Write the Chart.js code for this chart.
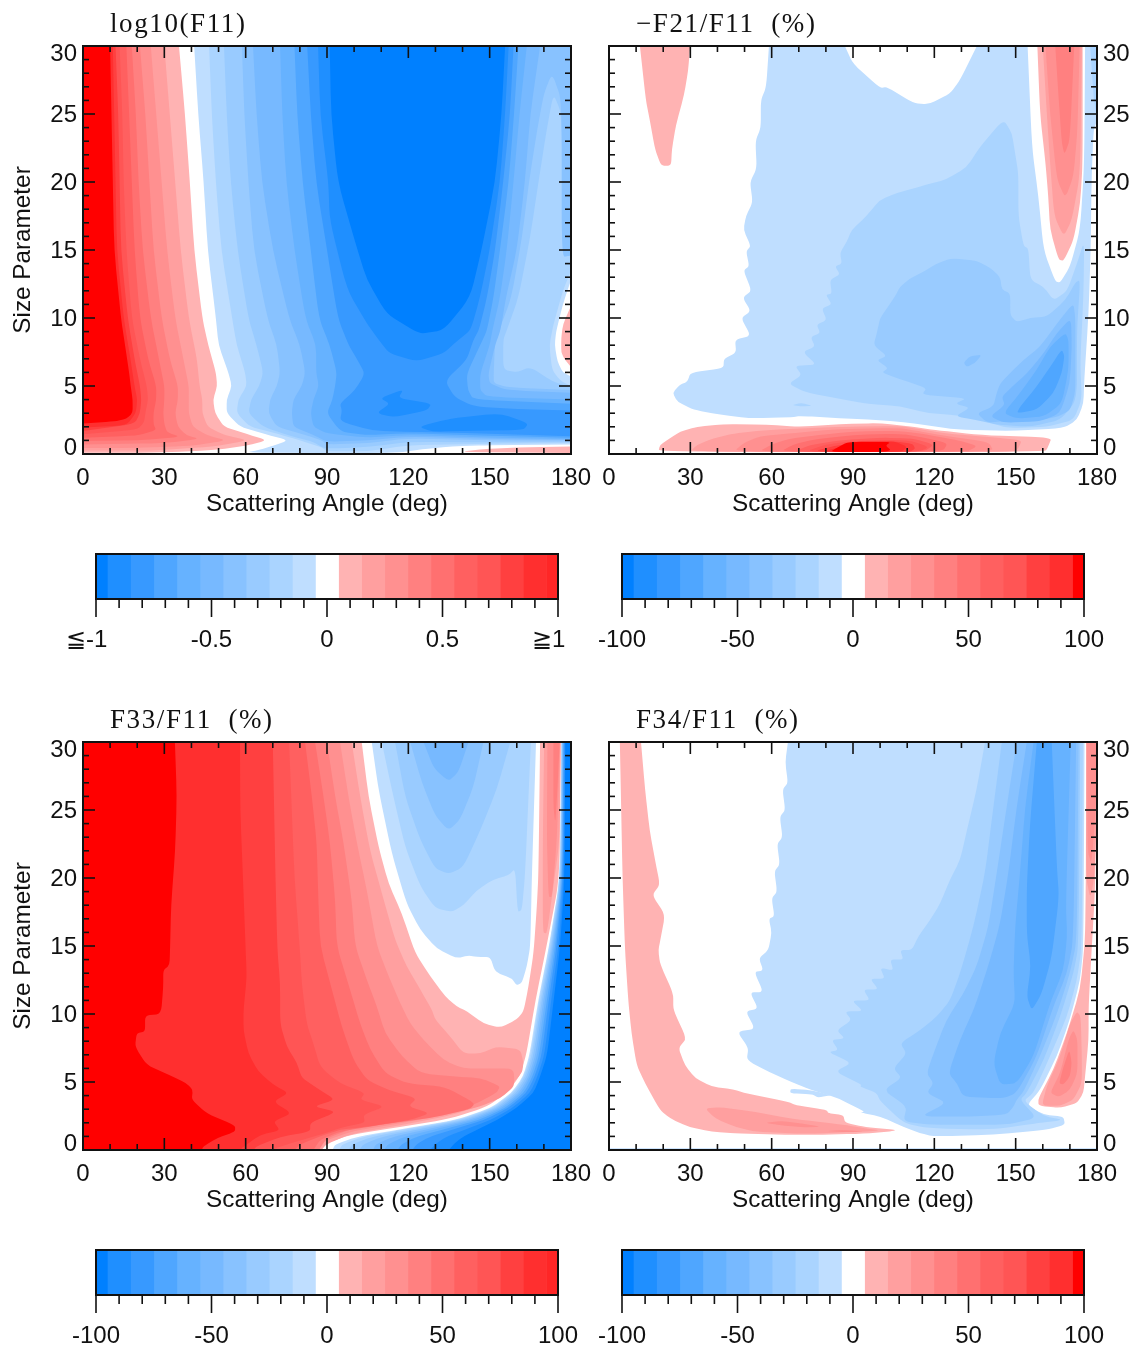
<!DOCTYPE html>
<html>
<head>
<meta charset="utf-8">
<title>Scattering matrix elements</title>
<script src="https://cdn.jsdelivr.net/npm/chart.js@4/dist/chart.umd.min.js"></script>
<style>
  body { margin: 0; background: #fff; }
  canvas { position: absolute; }
</style>
</head>
<body>
<script>
// axis ticks
const angleTicks = [0, 30, 60, 90, 120, 150, 180];
const angleMinor = [10, 20, 40, 50, 70, 80, 100, 110, 130, 140, 160, 170];
const sizeTicks = [0, 5, 10, 15, 20, 25, 30];
const sizeMinor = [1, 2, 3, 4, 6, 7, 8, 9, 11, 12, 13, 14, 16, 17, 18, 19, 21, 22, 23, 24, 26, 27, 28, 29];
const sizeLabelPos = [0.42, 4.93, 9.93, 14.93, 19.93, 24.93, 29.4];
const barTicks = [-100, -50, 0, 50, 100];
const barMinor = [-90, -80, -70, -60, -40, -30, -20, -10, 10, 20, 30, 40, 60, 70, 80, 90];
const f11BarLabelPos = [-104, -50, 0, 50, 96];
const f11BarLabels = ['≦-1', '-0.5', '0', '0.5', '≧1'];
const pctBarLabels = ['-100', '-50', '0', '50', '100'];

// colour bar bands
const barEdges = [-100, -95, -85, -75, -65, -55, -45, -35, -25, -15, -5, 5, 15, 25, 35, 45, 55, 65, 75, 85, 95, 100];
const barLevels = [-100, -90, -80, -70, -60, -50, -40, -30, -20, -10, 0, 10, 20, 30, 40, 50, 60, 70, 80, 90, 100];
const levelColors = {
  '-100': '#0080ff', '-90': '#1f8fff', '-80': '#3799ff', '-70': '#4fa6ff', '-60': '#66b2ff',
  '-50': '#77b9ff', '-40': '#88c2ff', '-30': '#99cbff', '-20': '#aad4ff', '-10': '#bfdeff',
  '0': '#ffffff',
  '10': '#ffb3b3', '20': '#ff9f9f', '30': '#ff9090', '40': '#ff8080', '50': '#ff7070',
  '60': '#ff6060', '70': '#ff5555', '80': '#ff4040', '90': '#ff2f2f', '100': '#ff0000'
};

// ---- log10(F11), contour outlines as [angle, size parameter]
const f11P10 = [[0,30],[35.4,30],[37.6,25],[39.4,20],[41,15],[44,10],[46.2,8],[49,6],[49.5,5],[48,4],[48.7,3],[52,2],[60,1.5],[68,1],[60,.6],[49,.3],[30,.1],[0,.1]];
const f11P20 = [[0,30],[30,30],[32,25],[34,20],[36,15],[39,10],[42,7],[43,5],[44,4],[44,3],[46,2],[52,1.4],[61,1],[48,.55],[25,.25],[0,.25]];
const f11P30 = [[0,30],[25,30],[27,25],[29,20],[31,15],[34,10],[37,7],[39,5],[39,4],[39,3],[40.5,2],[46,1.35],[53,1],[40,.6],[20,.45],[0,.45]];
const f11P40 = [[0,30],[21,30],[23,25],[24.5,20],[26,15],[29,10],[32,7],[35,5],[35,4],[34,3],[35,2],[38,1.4],[43,1.1],[30,.8],[0,.7]];
const f11P50 = [[0,30],[18,30],[19.5,25],[20.5,20],[22,15],[25,10],[28,7],[30,5],[30,4],[29.6,3],[30,2.2],[31,1.6],[36,1.25],[20,1],[0,.95]];
const f11P60 = [[0,30],[16,30],[17,25],[18,20],[19,15],[21,10],[24,7],[27,5],[27,4],[26,3],[26,2.2],[27,1.75],[20,1.35],[0,1.2]];
const f11P70 = [[0,30],[13.5,30],[14.5,25],[15,20],[16,15],[18,10],[21,7],[23.5,5],[24,4],[23,3],[22.5,2.3],[20,1.8],[0,1.45]];
const f11P80 = [[0,30],[12,30],[13,25],[13.5,20],[14,15],[16.5,10],[19,7],[21,5],[21.5,4],[21,3],[19,2.2],[0,1.7]];
const f11P90 = [[0,30],[11,30],[11.5,25],[12,20],[12.5,15],[15,10],[17.5,7],[19,5],[20,4],[19.5,3],[16,2.1],[0,1.95]];
const f11P100 = [[0,30],[10,30],[10.5,25],[11,20],[11.5,15],[14,10],[15.5,8],[17,6],[17.6,5],[18.3,4],[18.3,3],[16,2.6],[12,2.4],[0,2.25]];
const f11PinkEdge = [[180,10.9],[177,9.5],[176.4,8.5],[176.4,7.5],[177.5,7],[180,6.4]];
const f11PinkFloor = [[138,.15],[150,.4],[165,.5],[180,.55],[180,.08]];
const f11M10 = [[41,30],[42.5,25],[44.5,20],[46,15],[49,10],[50,8],[53.6,6],[54.9,5],[53,4],[53,3],[58,2],[66.5,1.5],[75.8,1],[70,.6],[65,.3],[60,.1],[100,.05],[117,.1],[125,.35],[136,.55],[150,.65],[180,.7],[180,5.7],[177,6],[175,6.8],[174,8],[174.5,9],[177,11],[180,12.8],[180,30]];
const f11M20 = [[46.5,30],[47.5,25],[49,20],[51,15],[55,10],[56.7,8],[59.8,6],[60.4,5],[57.3,4],[56.7,3],[61.6,2],[71.5,1.5],[80,1],[88,.5],[90,.2],[105,.2],[120,.66],[150,.75],[180,.8],[180,5],[176,5.4],[173,6.2],[172,8],[173.5,9.5],[177,12],[180,13.5],[180,30]];
const f11M30 = [[52,30],[53,25],[54.5,20],[57,15],[61,10],[64,8],[66.5,6],[65,5],[62,4],[61,3],[66.5,2],[77,1.3],[85,.9],[88,.5],[90,.4],[105,.5],[120,.9],[150,.85],[180,.9],[180,4.9],[173.5,5.3],[165,6.4],[160,6],[155,6.2],[155,8.4],[156.3,9.1],[160.6,11.5],[165,16],[168,20],[171,23.8],[173.5,26.5],[176.6,25],[176.6,14.5],[180,14.6],[180,30]];
const f11M40 = [[58.6,30],[59.5,25],[61,20],[63,15],[68,10],[71.5,8],[72.7,6],[71.5,5],[69,4],[68.4,3],[71.5,2],[82,1.4],[88,1],[90,.7],[105,.8],[120,1.15],[150,1],[180,1],[180,4.7],[157,4.9],[151.5,5.2],[151.5,6],[152,8.4],[153.5,9.1],[158,11.5],[162,16],[164.5,20],[167.5,23.8],[170,26.5],[173,28],[176.6,26],[176.6,14.5],[180,14.6],[180,30]];
const f11M50 = [[62.7,30],[64,25],[66,20],[70,15],[76,10],[80,8],[82,6],[80.7,5],[77.6,4],[77,3],[77.6,2],[85,1.4],[90,.9],[105,1],[120,1.28],[150,1.1],[180,1.05],[180,4.5],[156,4.7],[150,5.2],[149.5,5.9],[152,8],[154,9.1],[156,11.5],[160,15],[163,20],[165,25],[168.6,30]];
const f11M60 = [[72.7,30],[73.5,25],[75,20],[78,15],[82,10],[86,8],[86,6],[87,5],[85,4],[84,3],[85,2],[90,1.5],[105,1.2],[120,1.4],[150,1.2],[180,1.1],[180,4],[149,4.2],[146.5,4.7],[146.5,5.9],[150,8],[151,9.1],[153.8,11.5],[156.3,15],[158.8,20],[161,25],[163.7,30]];
const f11M70 = [[78,30],[79,25],[81,20],[84,15],[87,10],[91,8],[93.6,6],[93,5],[92,4],[90,3],[93.6,2],[96,1.6],[105,1.4],[120,1.52],[150,1.35],[180,1.2],[180,3.7],[144,4],[142,4.7],[141.5,5.9],[147,8.2],[149,9.1],[151.4,11.5],[153.8,15],[157,20],[159,25],[160.6,30]];
const f11M80 = [[82.7,30],[84,25],[86,20],[90,15],[94,10],[98,8],[101,7],[104,5.9],[100.3,4.7],[94.8,3.7],[95.5,3.2],[94.8,2.4],[107,1.7],[120,1.64],[150,1.5],[180,1.3],[180,3.2],[160,3.3],[144,3.5],[137,4.2],[133.5,5.4],[141.5,6.9],[144,8.4],[146,9.1],[149,11.5],[152,15],[155,20],[157.5,25],[158.8,30]];
const f11M90 = [[86.7,30],[87.5,25],[90.5,20],[91,17.2],[97.4,12.1],[104.7,9.6],[109,8.4],[113,7.4],[123,6.8],[133,7.4],[138.5,8.4],[143,9.1],[146.4,11.5],[150,15],[153.8,20],[155.7,25],[157,30]];
const f11M90Upper = [[109.6,4.1],[118.2,4.75],[116.3,4.1],[128.6,3.7],[126.8,3.2],[114.5,2.7],[108.3,3],[113.2,3.7]];
const f11M90Lower = [[123.7,2],[135.4,2.6],[153.8,3],[164.3,2.26],[162.5,1.77],[144,1.72],[129,1.64]];
const f11M100 = [[91,30],[91.5,25],[94,20],[100.5,15.5],[104.7,12.8],[112,10.3],[121.8,9.1],[125,8.85],[133,9.1],[142.8,11.5],[147,15],[152,20],[154.4,25],[155.7,30]];
const f11Layers = [[-10,f11M10],[-20,f11M20],[-30,f11M30],[-40,f11M40],[-50,f11M50],[-60,f11M60],[-70,f11M70],[-80,f11M80],[-90,f11M90],[-90,f11M90Upper],[-90,f11M90Lower],[-100,f11M100],
  [10,f11P10],[20,f11P20],[30,f11P30],[40,f11P40],[50,f11P50],[60,f11P60],[70,f11P70],[80,f11P80],[90,f11P90],[100,f11P100],[10,f11PinkEdge],[10,f11PinkFloor]];

// ---- -F21/F11
const f21M10 = [[59,30],[87,30],[90,28.7],[100,26.9],[102.5,27],[112.3,25.8],[117.8,25.7],[125.8,26.5],[129.5,27.5],[135.7,30],[180,30],[180,24.5],[178.7,23.8],[178,20.2],[177.7,15.25],[176.9,10.35],[175.3,5.45],[175,3.7],[172.6,2.5],[167.6,1.9],[149,1.7],[128.3,1.78],[112.3,2.27],[100,2.5],[85,2.63],[70.5,2.8],[68,2.7],[52,2.63],[41,2.9],[31.1,3.25],[25.2,3.85],[23.5,4.5],[26.2,5.1],[28.9,5.3],[30.1,6],[42.2,6.3],[42.4,7],[46.9,7.45],[46.5,8.4],[52.3,8.7],[48.7,10],[52.3,10.5],[49.3,11.5],[52.6,12],[49.6,13.5],[51.7,13.8],[50.6,14.9],[52.3,15.3],[49.6,16.47],[50.5,17.5],[53,18.5],[52,20],[54.5,21],[54,23],[56,24],[56,26],[58,27]];
const f21M20 = [[145.5,24.6],[136.9,22.6],[132,21.1],[124.6,20.2],[117.2,19.8],[106.2,19.2],[100,18.7],[95,17.5],[89.5,16.47],[87.7,15.6],[85.2,14.8],[85.9,14],[83.4,13.8],[85.2,13.2],[81.5,12.8],[82.2,11.8],[80,11.7],[82.2,11],[78.5,10.7],[80.3,9.85],[76.6,9.5],[77.9,8.9],[74.4,8.6],[76,7.9],[71.5,7.5],[76.6,6.55],[68.6,6.5],[71.1,5.8],[66.2,5.15],[73,4.5],[95,3.7],[107.4,3.5],[118,3],[129,2.85],[139.4,2.4],[146.7,1.9],[161.5,2],[171.3,2.5],[174.4,4],[173.8,6.7],[175,11.6],[175.3,15.7],[172.6,14],[169,12],[164,11.3],[160.3,12.3],[155.4,12.8],[154.7,15.1],[152.9,15.3],[151,17.5],[151,20.6],[149.8,22.1],[148.6,23.6]];
const f21M20Strip = [[177.5,30],[178.7,26.3],[180,24.6],[180,30]];
const f21M20Sliver = [[67.5,3.6],[71,3.75],[75,3.55],[71,3.5]];
const f21M30 = [[107.4,5.5],[100.6,6],[103,6.3],[98.8,6.9],[102.5,7.2],[97.6,8],[98.8,8.9],[100,10],[102.5,10.7],[105.5,11.6],[107.4,12.3],[111,12.9],[116,13.4],[120.9,14],[126.4,14.4],[135.7,14.2],[140.6,13.7],[144.3,13],[144.9,12.1],[148,11.8],[148,10.2],[150.4,9.7],[155.4,10],[161.5,10.1],[168.3,11.3],[172,12.6],[173.8,12.8],[172.6,9.1],[172.6,4],[166.4,2.5],[155.4,2],[143,2.15],[135.7,2.5],[127.7,2.76],[133.2,3.4],[127.7,3.7],[132,4.1],[115.4,4.35],[117.2,4.85]];
const f21M40 = [[171.3,11.1],[172,10],[172,7],[172,4.5],[170,3.2],[165,2.7],[155,2.4],[145,2.4],[139.4,2.3],[135.7,3],[141.8,3.5],[143,4.5],[144.3,5.2],[149.2,6.2],[152.9,6.9],[159,7.9],[166.4,9.9]];
const f21M40Blob = [[130.8,6.7],[133.2,7.2],[137.5,7.3],[135,6.7],[132,6.4]];
const f21M50 = [[170.4,10],[165.2,8.9],[160.3,7.4],[154,5.9],[149,5],[144.9,4.2],[146,3.6],[140.6,2.76],[145.5,2.3],[159,2.4],[166.4,3],[170,5.2],[170.7,7.9]];
const f21M60 = [[168.3,8.9],[162.7,7.9],[157.8,6.2],[151.7,4.5],[145.5,3],[150.4,2.6],[160.3,2.76],[167,3.7],[169.5,6.2],[169.5,8.4]];
const f21M70 = [[167,7.7],[162.7,6.4],[157.8,4.97],[151.7,3.5],[150.4,3],[157.8,3.25],[164,4.5],[167,5.95],[168,7.2]];
const f21Hole = [[154.4,30],[156,22.6],[158.4,18.9],[160.3,15],[164.6,12.7],[166.4,12.6],[170.1,13.8],[173.8,16.5],[175.3,21.4],[175.6,30]];
const f21LobeP10 = [[158,30],[159,25],[161,21.4],[162,19],[162.7,16.5],[165.8,14.3],[167.7,14.2],[171.3,15.7],[173.8,18.4],[174.7,21.4],[174.7,30]];
const f21LobeP20 = [[160,30],[161.5,25],[162.7,21.4],[164.2,17.5],[167.7,16],[170.7,17.2],[173.8,20.6],[174.4,30]];
const f21LobeP30 = [[161,30],[162.7,25],[165.2,20.2],[168.3,18.8],[171.3,20.4],[172.8,23.8],[173.6,30]];
const f21LobeP40 = [[164.6,30],[165.8,26.3],[167,22.9],[168,22],[170,23.1],[171.6,30]];
const f21TopPink = [[11.4,30],[13.6,26],[15,24.6],[17,22.4],[19.2,21.2],[22.9,21.2],[23.2,22.4],[24.7,24.2],[27.7,26.4],[29.2,28.2],[29.9,30]];
const f21P10 = [[18.2,.15],[18.8,.67],[22.5,1.15],[26.2,1.64],[32.4,2],[42.2,2.2],[58.2,2.16],[70.5,2],[85.2,2.2],[100,2.27],[112.3,2],[119.7,1.78],[137,1.4],[163.3,1.2],[162,.55],[160.9,.15]];
const f21P20 = [[29.9,.15],[32.4,.67],[38.5,1.15],[45.9,1.5],[58.2,1.77],[73,1.9],[85.2,2],[107.4,2.06],[112.3,1.9],[124.6,1.5],[143,1.2],[152.3,1],[151,.45],[149.8,.15]];
const f21P30 = [[45.9,.15],[49.6,.8],[55.7,1.3],[65.6,1.5],[85.2,1.85],[107.4,1.9],[112,1.75],[125,1.3],[140,.9],[142,.15]];
const f21P40 = [[55,.15],[60,.7],[66,1.1],[75,1.35],[90,1.65],[107,1.7],[115,1.5],[128,1.05],[136,.6],[132,.15]];
const f21P50 = [[63,.15],[68,.7],[75,1.05],[90,1.4],[107,1.5],[115,1.25],[125,.8],[123,.15]];
const f21P60 = [[68,.15],[74,.65],[85,1],[100,1.2],[112,1.15],[120,.7],[116,.15]];
const f21P70 = [[72,.15],[80,.7],[90,.95],[105,1.05],[112,.95],[118,.5],[114,.15]];
const f21P80 = [[75,.15],[83,.6],[92,.8],[105,.95],[112,.75],[113,.4],[111,.15]];
const f21P90 = [[78,.15],[85,.5],[92,.8],[105,.95],[110,.55],[108,.15]];
const f21P100 = [[81.6,.15],[84,.45],[88.3,.9],[104,.9],[102,.6],[104,.3],[102,.15]];
const f21Layers = [[-10,f21M10],[-20,f21M20],[-20,f21M20Strip],[-20,f21M20Sliver],[-30,f21M30],[-40,f21M40],[-40,f21M40Blob],[-50,f21M50],[-60,f21M60],[-70,f21M70],
  [0,f21Hole],[10,f21LobeP10],[20,f21LobeP20],[30,f21LobeP30],[40,f21LobeP40],[10,f21TopPink],
  [10,f21P10],[20,f21P20],[30,f21P30],[40,f21P40],[50,f21P50],[60,f21P60],[70,f21P70],[80,f21P80],[90,f21P90],[100,f21P100]];

// ---- F33/F11
const f33P10 = [[0,30],[176.2,30],[175.8,20],[171,15],[166.9,11],[163.5,7],[161,5.4],[156.7,4.3],[149.2,3.2],[135.5,2.3],[117,1.7],[98.5,1.1],[89.5,.5],[85,0],[0,0]];
const f33P20 = [[0,30],[99.1,30],[102.2,26],[105.9,22],[110.2,18.9],[115.1,15.45],[119.4,13.5],[124.4,11.8],[128.7,10.3],[129.9,9.6],[134.8,8.5],[140.3,7.1],[146.5,7.1],[152.6,7.6],[161.3,7.4],[162.5,6.4],[161.9,5.65],[156.3,4.4],[149,3.45],[136.6,2.6],[118.2,1.85],[99.8,1.24],[89.9,.45],[88,0],[0,0]];
const f33P30 = [[0,30],[94.8,30],[97.9,26],[101,22.6],[104.7,19.1],[108.4,15],[112.7,12.8],[117,10.8],[120.7,9.3],[125.6,8.1],[133,6.6],[140.3,6],[149,6],[158.8,6],[159.2,4.7],[153.9,3.8],[146.5,3.2],[134.2,2.6],[118.2,2],[99.8,1.4],[88.7,.63],[86,0],[0,0]];
const f33P40 = [[0,30],[90,30],[93,26],[96.1,22.6],[99.1,18.4],[100.4,15],[104.7,12.5],[108.4,10.55],[111.4,8.6],[117.6,6.9],[124.4,5.65],[136.6,5.4],[146.5,5.3],[153.9,4.7],[152.6,4.2],[142.8,3.2],[131.7,2.7],[118.2,2.2],[99.8,1.6],[89.9,.87],[87,0],[0,0]];
const f33P50 = [[0,30],[85.6,30],[88.7,26],[91.1,22.6],[93,18.4],[93.6,15],[98.5,11.8],[102.2,9.3],[105.9,7.4],[111.4,5.65],[119.4,4.9],[133.6,4.65],[144.6,3.45],[142.8,3],[128,2.35],[109.6,1.85],[94.8,1.35],[87.5,.75],[85,0],[0,0]];
const f33P60 = [[0,30],[81.9,30],[84.4,26],[86.2,22.6],[86.8,18.4],[87.5,15],[91.8,11.8],[95.4,9.1],[99.8,6.6],[104.7,5.15],[112.7,4.4],[123.1,3.8],[120,3.2],[128,2.7],[120.7,2.2],[104.7,1.7],[94.8,1.5],[87.5,1],[80,.4],[78,0],[0,0]];
const f33P70 = [[0,30],[76,30],[77,25],[78,20],[80,14.7],[80.7,12.25],[82.5,9.3],[85,7.8],[87.5,6.1],[94.8,4.9],[104,4.2],[102.2,3.7],[111.4,3.2],[103.4,2.6],[104,2],[96,1.7],[88.7,1.2],[80,.7],[72,.2],[70,0],[0,0]];
const f33P80 = [[0,30],[70,30],[70.5,25],[71,20],[71.7,14.7],[72.7,12.25],[72.7,9.3],[75.2,7.6],[78.9,6.4],[80.7,5.3],[87.5,4.4],[93,3.7],[85,3.2],[93.6,2.8],[83.8,2],[83.8,1.35],[72.7,.98],[64,.25],[62.9,0],[0,0]];
const f33P90 = [[0,30],[57.9,30],[58,25],[59,20],[60,14.7],[60.4,12.7],[59.2,10.3],[59.2,8.8],[61,7.1],[64.7,5.76],[70.2,4.8],[75.8,4.2],[70.2,3.55],[77,2.7],[70.2,2.1],[72.7,1.45],[65.3,1.1],[59.2,.25],[58,0],[0,0]];
const f33P100 = [[0,30],[33.9,30],[34.6,26],[34,22],[32.5,18],[32.1,14.7],[31.9,13.6],[29.6,13.2],[29.6,12],[28.8,10],[22.9,9.9],[22.9,8.7],[19.8,8.6],[19.2,7.6],[23.5,6.25],[32.1,5.5],[38.3,4.9],[40.5,4.4],[40.1,3.7],[45.6,2.7],[56.1,1.8],[56.1,1.35],[49.3,.86],[44.4,.25],[43.8,0],[0,0]];
const f33LobeP20 = [[170.1,30],[169.6,22.8],[169.6,16],[171.1,15.9],[173.5,19.4],[175.8,22.8],[176.2,30]];
const f33LobeP30 = [[171.3,30],[171.1,22.8],[171.7,18.6],[173,18.6],[174.8,22.8],[176,30]];
const f33LobeP40 = [[173.5,30],[173.5,25.25],[174.2,24],[175,26.5],[175.8,30]];
const f33Hole = [[102.8,30],[105.3,26],[109,22.3],[112.7,19.6],[117.6,17.4],[122.5,14.5],[128,12.8],[133.6,11.3],[137.9,10.55],[141.6,10.2],[147.7,9.3],[153.9,9],[160,9.6],[162.5,10.2],[164.3,12],[166.2,14.5],[167.4,17.9],[168,20.35],[168.6,30]];
const f33HoleM10 = [[106.5,30],[109,26.5],[113.9,21.8],[119.4,18.1],[124.4,16.2],[130.5,14.8],[137.9,14.1],[142.2,14.3],[145.3,14.2],[150.2,14.2],[152,13.1],[158.2,12.6],[160,12.1],[161.9,12.3],[163.7,13.5],[165,15],[165.6,20.35],[167.1,30]];
const f33HoleM20 = [[110.2,30],[113.9,26.5],[118.8,22.3],[124.4,19.4],[129.9,17.8],[136,17.5],[140.3,18],[145.3,19.1],[151.4,19.9],[157,20.2],[159.4,20.7],[160.3,17.5],[161.9,17.65],[163.1,20.35],[165.2,30]];
const f33HoleM30 = [[115.1,30],[118.8,26],[124.4,22.8],[129.9,20.7],[134.8,20.3],[140.3,20.8],[146.5,23.5],[152.6,26.5],[157.6,30]];
const f33HoleM40 = [[120.7,30],[125,27],[129.9,24.6],[134.8,23.5],[139.1,24.3],[144,26.7],[147.7,30]];
const f33HoleM50 = [[125.6,30],[129.3,28.1],[134.8,27.1],[138.5,27.8],[142.2,30]];
// blue wedge on the right, same size parameter per point
const f33WedgeSizes = [30, 20, 15, 11, 7, 5.4, 4.2, 3.1, 2.2, 1.6, 1, .4, 0];
const f33EdgeM10 = [176.4,175.9,171.9,167.9,164.7,162.3,158,150.6,137.2,119.5,101.5,93,92];
const f33EdgeM20 = [176.5,176,172.1,168.2,165.1,162.6,158.5,151.2,138.2,121,103.8,95.6,94.5];
const f33EdgeM30 = [176.6,176.1,172.5,168.7,165.6,163.1,159.1,152,139.5,123.3,107,99.2,98];
const f33EdgeM40 = [176.7,176.3,172.9,169.2,166.2,163.7,159.9,152.8,140.9,125.8,110.7,103.3,102];
const f33EdgeM50 = [176.9,176.5,173.3,169.8,166.9,164.4,160.8,153.8,142.5,128.7,114.7,107.9,107];
const f33EdgeM60 = [177,176.6,173.7,170.4,167.6,165,161.6,154.8,144.1,131.5,118.8,112.4,111];
const f33EdgeM70 = [177.2,176.8,174.2,171.1,168.3,165.8,162.6,155.9,145.9,134.6,123.2,117.4,116];
const f33EdgeM80 = [177.4,177,174.7,171.8,169.2,166.6,163.6,157,147.8,138,128.1,122.9,121.5];
const f33EdgeM90 = [177.7,177.3,175.4,172.7,170.2,167.6,164.9,158.5,150.2,142.3,134.2,129.8,128];
const f33EdgeM100 = [177.9,177.6,176,173.6,171.2,168.6,166.2,160,152.6,146.5,140.3,136.6,135];
function wedge(edge) {
  return edge.map((x, i) => [x, f33WedgeSizes[i]]).concat([[180, 0], [180, 30]]);
}
const f33Layers = [[10,f33P10],[20,f33P20],[30,f33P30],[40,f33P40],[50,f33P50],[60,f33P60],[70,f33P70],[80,f33P80],[90,f33P90],[100,f33P100],
  [20,f33LobeP20],[30,f33LobeP30],[40,f33LobeP40],
  [0,f33Hole],[-10,f33HoleM10],[-20,f33HoleM20],[-30,f33HoleM30],[-40,f33HoleM40],[-50,f33HoleM50],
  [-10,wedge(f33EdgeM10)],[-20,wedge(f33EdgeM20)],[-30,wedge(f33EdgeM30)],[-40,wedge(f33EdgeM40)],[-50,wedge(f33EdgeM50)],
  [-60,wedge(f33EdgeM60)],[-70,wedge(f33EdgeM70)],[-80,wedge(f33EdgeM80)],[-90,wedge(f33EdgeM90)],[-100,wedge(f33EdgeM100)]];

// ---- F34/F11
const f34Floor = [[0,0],[180,0],[180,.12],[0,.12]];
const f34P10 = [[4,30],[4.5,25],[5,20],[5.9,14.7],[7.1,11],[8.3,8.6],[10.2,6.25],[13.3,4.9],[18.8,2.94],[22.5,2.33],[29.3,1.7],[37.9,1.35],[47.7,1.2],[72.3,1.1],[94.4,1.2],[107.4,1.44],[94.4,1.7],[87.1,2],[86.4,2.57],[80.9,2.7],[80.3,2.94],[68.6,3.3],[66.2,3.55],[50.2,4.17],[45.9,4.46],[37.9,4.65],[31.7,5.3],[28,6.25],[25.6,7.5],[28.6,8.2],[23.7,10.3],[23.7,11.5],[18.8,13.7],[18.2,14.7],[19,15.5],[20.7,17.3],[15.9,18.75],[18.8,19.5],[17,21.3],[15,23.5],[13.3,26.5],[11.8,30]];
const f34P20 = [[35.4,3.06],[41.6,3.14],[53.9,2.8],[67.4,2.3],[87,1.84],[94.4,1.6],[100,1.44],[94.4,1.35],[72.3,1.18],[53.9,1.35],[46.5,1.7],[39.1,2.33]];
const f34P30 = [[57.5,2],[63.7,2.13],[71,1.96],[78.5,1.7],[71,1.67],[62.5,1.84]];
const f34P30Tail = [[79.7,1.4],[87,1.47],[94.4,1.35],[87,1.32]];
const f34M10 = [[66,30],[65,28.5],[66,27],[64,26.5],[65,25],[63,24.5],[64,23],[62,22.5],[63,21],[61,20.5],[62,19],[60,18.5],[61,17.2],[59,17],[60,16],[58.8,14.7],[55.3,14.1],[56.9,13.2],[53.6,13.1],[56.9,11.6],[52,11.6],[55,10.4],[50.4,10.2],[53.9,8.9],[47.3,8.7],[51.4,7.5],[50.8,6.6],[58.8,5.76],[67.4,5],[74.8,4.4],[84.6,3.8],[94.4,2.8],[92.6,2.76],[100,2.47],[108.6,1.7],[114.7,1.24],[119.7,1],[141.8,1.12],[161.5,1.5],[168.2,1.85],[167.6,2.47],[160.3,2.6],[154.1,3.3],[159,4.4],[165.2,6.9],[170,9.6],[173.8,12.5],[175,15],[175.4,30]];
const f34M10Sliver = [[66.8,4.17],[75,4.1],[77,3.85],[84,4.1],[85.5,3.8],[75,4.4],[67,4.5]];
const f34M20 = [[138.7,30],[135.6,26.5],[132,23.5],[129.5,21.3],[125.8,19.9],[122.1,18.1],[118.4,16.9],[114.1,15.7],[111.7,14.7],[107.4,14.7],[108.6,14],[103.7,14],[104.9,13.2],[100,13.4],[101.8,12.6],[96.3,12.6],[99.4,11.8],[93.8,11.8],[96.3,11],[89.5,11],[93.8,10.2],[87,10.2],[89.5,9.55],[84,8.8],[87,8.2],[82.1,8.1],[84.6,7.35],[80.9,7.2],[89.5,6.4],[83.4,5.76],[93.2,4.8],[92.6,4.67],[98.7,4.2],[100,3.6],[108.6,2],[117.2,1.6],[141.8,1.5],[159,2],[167.6,2.2],[160.3,2.5],[152.9,3.6],[156.6,4.2],[162.7,6.9],[168.9,9.8],[172.6,12.5],[174.4,15],[174.8,30]];
const f34M30 = [[144.9,30],[141.8,25.25],[138.7,20.35],[134.4,16.4],[129.5,13],[125.8,11],[120.9,9.8],[114.7,8.8],[107.4,7.85],[109.8,7.1],[104.9,6],[108,5.3],[101.2,4.4],[109.8,3.2],[108.6,2.1],[118.4,1.85],[146.7,1.85],[157.8,2.35],[151.6,3.7],[154.1,4.2],[160.3,6.6],[166.4,9.8],[171.3,13],[173.2,15],[173.8,30]];
const f34M40 = [[150.4,30],[146.7,25.25],[143,20.35],[139.9,16.4],[135.6,13.5],[130.7,11.5],[124.4,9.55],[119.7,7.1],[117.2,5.65],[119.7,4.9],[117.2,4.2],[124.6,3.45],[114.7,2.47],[133.2,2.47],[146.7,2.6],[149.2,3.2],[150.4,3.7],[152.9,4.3],[159,6.9],[165.2,10],[170,13],[172.6,15.45],[173.2,30]];
const f34M50 = [[154.1,30],[150.4,25.25],[147.3,20.35],[144.3,16.7],[140.6,14],[135,10.55],[129.5,8.1],[125.2,5.65],[128.3,4.9],[130.7,3.9],[145.5,3.8],[150.4,4.2],[157.8,6.9],[163.9,10.55],[168.9,13],[171.3,15.45],[172.3,30]];
const f34M60 = [[156.6,30],[153.5,25.25],[151.6,20.35],[149.8,16.4],[149.2,13],[149.8,10.8],[144.3,8.6],[141.8,6.4],[144.3,4.8],[150.4,4.9],[156.6,6.9],[162.7,10.8],[167.6,13.2],[169,15.7],[168.5,18],[170.3,30]];
const f34M70 = [[157.8,30],[155.3,24],[154.1,19.4],[154.1,15.9],[155.6,13.5],[154.1,11.3],[155.9,10.25],[159.6,11.5],[163.3,14.2],[166,18.6],[165.2,20.8],[163.3,30]];
const f34Lobe = [[158.4,3.25],[158.4,3.8],[163.9,5.9],[168.9,8.6],[173.8,11.8],[175.6,15.45],[175.9,20.35],[176,30],[180,30],[179.3,19.1],[178.1,15],[176.9,10.55],[176.9,8.1],[175.6,5.4],[175,4.2],[172.6,3.45],[166.4,3.1]];
const f34LobeP20 = [[159.6,3.25],[161.5,4.7],[166.4,6.9],[170.1,9.3],[172.6,10.2],[174,9.8],[174.4,6.9],[174.4,4.9],[171.3,3.7],[166.4,3.25]];
const f34LobeP30 = [[162.7,4.2],[166.4,5.65],[169.5,8.1],[171.3,8.85],[172.8,8.1],[172.8,5.65],[170,4.4],[165.8,3.9]];
const f34LobeP40 = [[166,4.9],[167.6,6.1],[169.8,7.4],[170.7,6.4],[170,5.4],[167.6,4.8]];
const f34StripP20 = [[176,30],[176,20],[177.5,18.5],[179,20],[180,25],[180,30]];
const f34StripP30 = [[176.3,30],[176.5,22],[178,21],[179.5,25],[180,30]];
const f34Layers = [[-10,f34Floor],[10,f34P10],[20,f34P20],[30,f34P30],[30,f34P30Tail],
  [-10,f34M10],[-10,f34M10Sliver],[-20,f34M20],[-30,f34M30],[-40,f34M40],[-50,f34M50],[-60,f34M60],[-70,f34M70],
  [10,f34Lobe],[20,f34LobeP20],[30,f34LobeP30],[40,f34LobeP40],[20,f34StripP20],[30,f34StripP30]];

const labelFont = { family: '"Liberation Sans", Arial, sans-serif', size: 24 };
const axisTitleFont = { family: '"Liberation Sans", Arial, sans-serif', size: 24.3 };
const titleFont = { family: '"Liberation Serif", serif', size: 27, weight: 'normal' };
const inkColor = '#111';
const cornerRound = 0.3;

// fills every scatter dataset as a closed contour region, corners rounded a bit
// except where the outline touches the plot edge
const contourFill = {
  id: 'contourFill',
  beforeDatasetDraw(chart, args) {
    if (chart.config.type !== 'scatter') return;
    const ctx = chart.ctx;
    const pts = args.meta.data;
    const src = args.meta._dataset.data;
    const n = pts.length;
    const onEdge = i => src[i].x === 0 || src[i].x === 180 || src[i].y === 0 || src[i].y === 30;
    const toward = (a, b, t) => ({ x: a.x + (b.x - a.x) * t, y: a.y + (b.y - a.y) * t });
    ctx.beginPath();
    for (let i = 0; i < n; i++) {
      const p = pts[i];
      if (onEdge(i)) {
        ctx.lineTo(p.x, p.y);
        continue;
      }
      const a = toward(p, pts[(i + n - 1) % n], cornerRound);
      const b = toward(p, pts[(i + 1) % n], cornerRound);
      ctx.lineTo(a.x, a.y);
      ctx.quadraticCurveTo(p.x, p.y, b.x, b.y);
    }
    ctx.closePath();
    ctx.fillStyle = args.meta._dataset.backgroundColor;
    ctx.fill();
  }
};

// frame and tick marks (major and minor, Chart.js only has one length)
const axisMarks = {
  id: 'axisMarks',
  afterDatasetsDraw(chart, args, opts) {
    const { ctx, chartArea: a, scales } = chart;
    ctx.save();
    ctx.strokeStyle = inkColor;
    ctx.lineWidth = 1.6;
    const line = (x1, y1, x2, y2) => { ctx.beginPath(); ctx.moveTo(x1, y1); ctx.lineTo(x2, y2); ctx.stroke(); };
    const xMark = (v, len) => {
      const x = scales.x.getPixelForValue(v);
      if (opts.outward) { line(x, a.bottom, x, a.bottom + len); return; }
      line(x, a.bottom, x, a.bottom - len);
      line(x, a.top, x, a.top + len);
    };
    opts.xMajor.forEach(v => xMark(v, opts.majorLen));
    opts.xMinor.forEach(v => xMark(v, opts.minorLen));
    if (opts.yMajor) {
      const yMark = (v, len) => {
        const y = scales.y.getPixelForValue(v);
        line(a.left, y, a.left + len, y);
        line(a.right, y, a.right - len, y);
      };
      opts.yMajor.forEach(v => yMark(v, opts.majorLen));
      opts.yMinor.forEach(v => yMark(v, opts.minorLen));
    }
    ctx.lineWidth = 2;
    ctx.strokeRect(a.left, a.top, a.right - a.left, a.bottom - a.top);
    ctx.restore();
  }
};

// panel titles are letter spaced in the original
const spacedTitle = {
  id: 'spacedTitle',
  beforeDraw(chart, args, opts) {
    const block = chart.titleBlock;
    if (!block || block._spaced) return;
    block._spaced = true;
    const draw = block.draw.bind(block);
    block.draw = function (area) {
      chart.ctx.save();
      chart.ctx.letterSpacing = '1.6px';
      chart.ctx.translate(opts.dx, 0);
      draw(area);
      chart.ctx.restore();
    };
  }
};

Chart.register(contourFill, axisMarks, spacedTitle);

function addCanvas(left, top, width, height) {
  const c = document.createElement('canvas');
  c.width = width;
  c.height = height;
  c.style.left = left + 'px';
  c.style.top = top + 'px';
  c.style.width = width + 'px';
  c.style.height = height + 'px';
  document.body.appendChild(c);
  return c;
}

function drawPanel(left, top, title, layers, isRight) {
  const width = isRight ? 535 : 600;
  const canvas = addCanvas(left, top, width, 530);
  // Chart.js paints the last dataset first, so the list goes in reverse
  const datasets = layers.map(l => ({
    data: l[1].map(p => ({ x: p[0], y: p[1] })),
    backgroundColor: levelColors[l[0]],
    pointRadius: 0
  })).reverse();
  new Chart(canvas, {
    type: 'scatter',
    data: { datasets: datasets },
    options: {
      responsive: false,
      animation: false,
      events: [],
      layout: { padding: isRight ? { left: 9 } : { right: 29 } },
      scales: {
        x: {
          type: 'linear', min: 0, max: 180,
          grid: { display: false, drawTicks: false },
          border: { display: false },
          afterBuildTicks: s => { s.ticks = angleTicks.map(v => ({ value: v })); },
          afterFit: s => { s.height = 76; s.paddingLeft = 0; s.paddingRight = 0; },
          ticks: { color: inkColor, font: labelFont, padding: 10, maxRotation: 0, autoSkip: false },
          title: { display: true, text: 'Scattering Angle (deg)', color: inkColor, font: axisTitleFont, padding: { top: 0, bottom: 11.6 } }
        },
        y: {
          type: 'linear', min: 0, max: 30,
          position: isRight ? 'right' : 'left',
          grid: { display: false, drawTicks: false },
          border: { display: false },
          afterBuildTicks: s => { s.ticks = sizeLabelPos.map(v => ({ value: v })); },
          afterFit: s => { s.width = isRight ? 38 : 83; s.paddingTop = 0; s.paddingBottom = 0; },
          ticks: {
            color: inkColor, font: labelFont, padding: 6, autoSkip: false,
            callback: (v, i) => String(sizeTicks[i])
          },
          title: { display: !isRight, text: 'Size Parameter', color: inkColor, font: axisTitleFont, padding: { top: 8.6, bottom: 0 } }
        }
      },
      plugins: {
        legend: { display: false },
        tooltip: { enabled: false },
        title: { display: true, text: title, align: 'start', color: inkColor, font: titleFont, padding: { top: 9, bottom: 4.6 } },
        spacedTitle: { dx: isRight ? 27 : 110 },
        axisMarks: { xMajor: angleTicks, xMinor: angleMinor, yMajor: sizeTicks, yMinor: sizeMinor, majorLen: 12, minorLen: 6 }
      }
    }
  });
}

function drawBar(left, top, labelPos, labels, isRight, topColor) {
  const width = isRight ? 545 : 590;
  const canvas = addCanvas(left, top, width, 130);
  const datasets = barLevels.map((lvl, i) => ({
    data: [[barEdges[i], barEdges[i + 1]]],
    backgroundColor: lvl === 100 ? topColor : levelColors[lvl],
    barPercentage: 1,
    categoryPercentage: 1,
    grouped: false
  }));
  new Chart(canvas, {
    type: 'bar',
    data: { labels: [''], datasets: datasets },
    options: {
      indexAxis: 'y',
      responsive: false,
      animation: false,
      events: [],
      layout: { padding: { left: isRight ? 32 : 96, right: isRight ? 51 : 32, top: 24 } },
      scales: {
        x: {
          type: 'linear', min: -100, max: 100,
          grid: { display: false, drawTicks: false },
          border: { display: false },
          afterBuildTicks: s => { s.ticks = labelPos.map(v => ({ value: v })); },
          afterFit: s => { s.height = 61; s.paddingLeft = 0; s.paddingRight = 0; },
          ticks: { color: inkColor, font: labelFont, padding: 27, maxRotation: 0, autoSkip: false, callback: (v, i) => labels[i] }
        },
        y: { display: false }
      },
      plugins: {
        legend: { display: false },
        tooltip: { enabled: false },
        title: { display: false },
        axisMarks: { xMajor: barTicks, xMinor: barMinor, majorLen: 18, minorLen: 9, outward: true }
      }
    }
  });
}

drawPanel(0, 0, 'log10(F11)', f11Layers, false);
drawPanel(600, 0, '−F21/F11  (%)', f21Layers, true);
drawPanel(0, 696, 'F33/F11  (%)', f33Layers, false);
drawPanel(600, 696, 'F34/F11  (%)', f34Layers, true);

drawBar(0, 530, f11BarLabelPos, f11BarLabels, false, '#ff2626');
drawBar(590, 530, barTicks, pctBarLabels, true, '#ff0000');
drawBar(0, 1226, barTicks, pctBarLabels, false, '#ff2626');
drawBar(590, 1226, barTicks, pctBarLabels, true, '#ff0000');
</script>
</body>
</html>
